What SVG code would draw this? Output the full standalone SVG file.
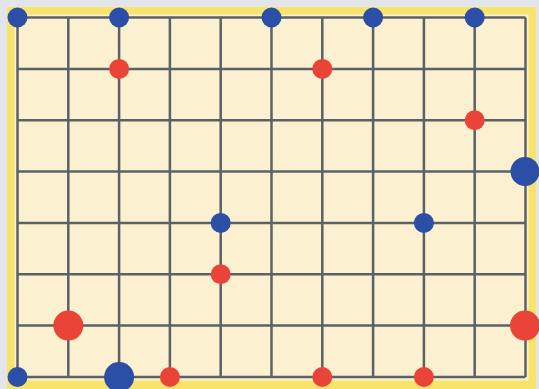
<svg xmlns="http://www.w3.org/2000/svg" width="539" height="389" viewBox="0 0 539 389">
<style>
.g{stroke:#5b6166;stroke-width:2.5;fill:none}
.b{fill:#2b4fa6}
.r{fill:#ea4438}
</style>
<rect x="0" y="0" width="539" height="389" fill="#e2e6ea"/>
<rect x="7" y="7" width="529" height="382" fill="#f8e46c"/>
<rect x="14.5" y="14.5" width="514" height="366" fill="#fbf0d0"/>
<g id="connectors" class="g">
<path d="M17.5 17.5V377M68.3 17.5V377M119.1 17.5V377M169.9 17.5V377M220.7 17.5V377M271.5 17.5V377M322.3 17.5V377M373.1 17.5V377M423.9 17.5V377M474.7 17.5V377M525.5 17.5V377"/>
<path d="M17.5 17.5H525.5M17.5 68.9H525.5M17.5 120.2H525.5M17.5 171.6H525.5M17.5 222.9H525.5M17.5 274.3H525.5M17.5 325.6H525.5M17.5 377H525.5"/>
</g>
<g id="n1"><circle class="b" cx="17.5" cy="17.5" r="10"/></g>
<g id="n2"><circle class="b" cx="119.1" cy="17.5" r="10"/></g>
<g id="n3"><circle class="b" cx="271.5" cy="17.5" r="10"/></g>
<g id="n4"><circle class="b" cx="373.1" cy="17.5" r="10"/></g>
<g id="n5"><circle class="b" cx="474.7" cy="17.5" r="10"/></g>
<g id="n6"><circle class="r" cx="119.1" cy="68.9" r="10"/></g>
<g id="n7"><circle class="r" cx="322.3" cy="68.9" r="10"/></g>
<g id="n8"><circle class="r" cx="474.7" cy="120.2" r="10"/></g>
<g id="n9"><circle class="b" cx="525" cy="171.6" r="14.5"/></g>
<g id="n10"><circle class="b" cx="220.7" cy="222.9" r="10"/></g>
<g id="n11"><circle class="b" cx="423.9" cy="222.9" r="10"/></g>
<g id="n12"><circle class="r" cx="220.7" cy="274.3" r="10"/></g>
<g id="n13"><circle class="r" cx="68.3" cy="325.6" r="15"/></g>
<g id="n14"><circle class="r" cx="525" cy="325.6" r="15"/></g>
<g id="n15"><circle class="b" cx="17.5" cy="377" r="10"/></g>
<g id="n16"><circle class="b" cx="119.1" cy="377" r="15"/></g>
<g id="n17"><circle class="r" cx="169.9" cy="377" r="10"/></g>
<g id="n18"><circle class="r" cx="322.3" cy="377" r="10"/></g>
<g id="n19"><circle class="r" cx="423.9" cy="377" r="10"/></g>
</svg>
